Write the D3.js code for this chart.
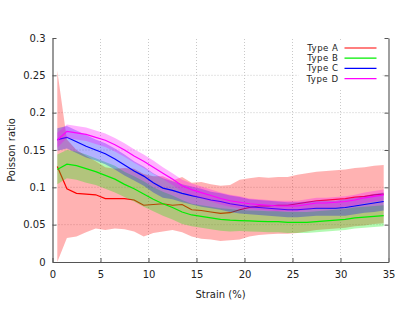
<!DOCTYPE html>
<html>
<head>
<meta charset="utf-8">
<script src="https://cdn.jsdelivr.net/npm/d3@7"></script>
<style>
  body { margin: 0; background: #fff; }
  svg { display: block; font-family: "DejaVu Sans", sans-serif; }
</style>
</head>
<body>
<div id="graph-container"></div>
<script>
const W = 415, H = 312
const margin = ({top: 38, right: 26.5, bottom: 50, left: 52.5})

// strain (%) sample points
const strain = [0.5, 1.5, 2.5, 3.5, 4.5, 5.5, 6.5, 7.5, 8.5, 9.5, 10.5, 11.5, 12.5, 13.5, 14.5, 15.5, 16.5,
  17.5, 18.5, 19.5, 20.5, 21.5, 22.5, 23.5, 24.5, 25.5, 26.5, 27.5, 28.5, 29.5, 30.5, 31.5, 32.5, 33.5, 34.5]

const meanA = [0.128, 0.098, 0.092, 0.091, 0.090, 0.085, 0.085, 0.085, 0.083, 0.076, 0.077, 0.078, 0.076, 0.077,
  0.070, 0.069, 0.067, 0.065, 0.066, 0.070, 0.073, 0.075, 0.075, 0.076, 0.076, 0.078, 0.080, 0.082, 0.083, 0.084,
  0.085, 0.087, 0.088, 0.090, 0.091]
const stdA = [0.128, 0.066, 0.058, 0.051, 0.045, 0.042, 0.040, 0.041, 0.042, 0.042, 0.038, 0.037, 0.033, 0.037,
  0.036, 0.038, 0.037, 0.037, 0.037, 0.040, 0.039, 0.039, 0.038, 0.038, 0.038, 0.039, 0.039, 0.039, 0.039, 0.039,
  0.039, 0.039, 0.039, 0.039, 0.039]

const meanB = [0.124, 0.131, 0.129, 0.125, 0.121, 0.116, 0.111, 0.104, 0.098, 0.091, 0.084, 0.078, 0.073, 0.067,
  0.063, 0.061, 0.059, 0.057, 0.056, 0.0555, 0.055, 0.0545, 0.054, 0.054, 0.053, 0.053, 0.053, 0.054, 0.055, 0.056,
  0.057, 0.059, 0.060, 0.061, 0.062]
const stdB = [0.020, 0.019, 0.019, 0.019, 0.018, 0.018, 0.018, 0.017, 0.017, 0.017, 0.016, 0.016, 0.016, 0.016,
  0.015, 0.015, 0.015, 0.015, 0.015, 0.014, 0.014, 0.014, 0.014, 0.014, 0.014, 0.014, 0.014, 0.014, 0.014, 0.014,
  0.014, 0.014, 0.014, 0.014, 0.014]

const meanC = [0.164, 0.167, 0.161, 0.155, 0.150, 0.145, 0.138, 0.130, 0.122, 0.115, 0.106, 0.099, 0.096, 0.092,
  0.089, 0.086, 0.083, 0.081, 0.078, 0.076, 0.074, 0.073, 0.072, 0.071, 0.070, 0.070, 0.071, 0.072, 0.072, 0.072,
  0.073, 0.075, 0.077, 0.079, 0.081]
const stdC = [0.015, 0.015, 0.015, 0.015, 0.014, 0.014, 0.014, 0.014, 0.013, 0.013, 0.013, 0.013, 0.012, 0.012,
  0.012, 0.012, 0.011, 0.011, 0.011, 0.011, 0.010, 0.010, 0.010, 0.010, 0.010, 0.010, 0.010, 0.010, 0.010, 0.010,
  0.011, 0.011, 0.011, 0.012, 0.012]

const meanD = [0.163, 0.175, 0.173, 0.171, 0.167, 0.163, 0.157, 0.150, 0.142, 0.135, 0.127, 0.119, 0.111, 0.102,
  0.097, 0.093, 0.089, 0.085, 0.082, 0.080, 0.078, 0.077, 0.076, 0.075, 0.075, 0.075, 0.077, 0.079, 0.079, 0.080,
  0.081, 0.083, 0.086, 0.088, 0.090]
const stdD = [0.010, 0.009, 0.009, 0.009, 0.009, 0.009, 0.009, 0.009, 0.009, 0.009, 0.009, 0.008, 0.008, 0.008,
  0.008, 0.008, 0.008, 0.008, 0.008, 0.008, 0.007, 0.007, 0.007, 0.007, 0.007, 0.007, 0.007, 0.007, 0.007, 0.007,
  0.007, 0.007, 0.007, 0.007, 0.007]

const typeNames = ["Type A", "Type B", "Type C", "Type D"]
const typeColors = ["#ff0000", "#00ee00", "#0000ff", "#ff00ff"]

const xTicks = [0, 5, 10, 15, 20, 25, 30, 35]
const yTicks = [0, 0.05, 0.1, 0.15, 0.2, 0.25, 0.3]

const series = typeNames.map((name, k) => ({
  name,
  color: typeColors[k],
  values: strain.map((s, i) => ({
    s,
    m: [meanA, meanB, meanC, meanD][k][i],
    sd: [stdA, stdB, stdC, stdD][k][i]
  }))
}))

const x = d3.scaleLinear().domain([0, 35]).range([margin.left, W - margin.right])
const y = d3.scaleLinear().domain([0, 0.3]).range([H - margin.bottom, margin.top])

const svg = d3.create("svg")
    .attr("width", W)
    .attr("height", H)
    .attr("viewBox", [0, 0, W, H])

d3.select("#graph-container").append(() => svg.node())

// dotted grid
const grid = svg.append("g").attr("stroke", "#bbbbbb").attr("stroke-width", 0.8).attr("stroke-dasharray", "1,2")
grid.selectAll(".gx")
  .data(xTicks.slice(1, -1))
  .join("line")
    .attr("x1", d => x(d)).attr("x2", d => x(d))
    .attr("y1", y(0)).attr("y2", y(0.3))
grid.selectAll(".gy")
  .data(yTicks.slice(1, -1))
  .join("line")
    .attr("x1", x(0)).attr("x2", x(35))
    .attr("y1", d => y(d)).attr("y2", d => y(d))

const area = d3.area()
  .x(d => x(d.s))
  .y0(d => y(Math.max(0, d.m - d.sd)))
  .y1(d => y(d.m + d.sd))

const line = d3.line()
  .x(d => x(d.s))
  .y(d => y(d.m))

const plot = svg.append("g").attr("class", "content")

series.forEach(sr => {
  plot.append("path")
      .attr("d", area(sr.values))
      .attr("fill", sr.color)
      .attr("fill-opacity", 0.3)
  plot.append("path")
      .attr("d", line(sr.values))
      .attr("fill", "none")
      .attr("stroke", sr.color)
      .attr("stroke-width", 1.2)
})

// legend (white box hides grid behind it)
const legend = svg.append("g").attr("transform", `translate(${x(35) - 50},${y(0.3) + 10})`)
legend.append("rect")
    .attr("x", -40).attr("y", -7)
    .attr("width", 84).attr("height", 48)
    .attr("fill", "#fff")
const item = legend.selectAll("g")
  .data(series)
  .join("g")
    .attr("transform", (d, i) => `translate(0,${i * 10.2})`)
item.append("text")
    .attr("x", 0)
    .attr("dy", "0.35em")
    .attr("text-anchor", "end")
    .attr("font-size", "8.6px")
    .attr("letter-spacing", "0.5px")
    .attr("fill", "#222")
    .text(d => d.name)
item.append("line")
    .attr("x1", 6).attr("x2", 38)
    .attr("stroke", d => d.color)
    .attr("stroke-width", 1.2)

// axes, gnuplot-like inward ticks
const axisColor = "#555"
const gx = svg.append("g")
    .attr("transform", `translate(0,${y(0)})`)
    .call(d3.axisBottom(x).tickValues(xTicks).tickSizeInner(-4).tickSizeOuter(0).tickPadding(9))
const gy = svg.append("g")
    .attr("transform", `translate(${x(0)},0)`)
    .call(d3.axisLeft(y).tickValues(yTicks).tickFormat(d3.format("")).tickSizeInner(-4).tickSizeOuter(0).tickPadding(7))
const gr = svg.append("g")
    .attr("transform", `translate(${x(35)},0)`)
    .call(d3.axisRight(y).tickValues(yTicks).tickSizeInner(-4).tickSizeOuter(0).tickFormat(""))

;[gx, gy, gr].forEach(g => {
  g.select(".domain").attr("stroke", axisColor).attr("stroke-width", 1.2)
  g.selectAll(".tick line").attr("stroke", axisColor)
  g.selectAll("text").attr("font-family", "DejaVu Sans").attr("font-size", "10px").attr("fill", "#222")
})
gr.select(".domain").attr("stroke", "#888").attr("stroke-width", 1.6)

svg.append("text")
    .attr("transform", "rotate(-90)")
    .attr("x", -(y(0) + y(0.3)) / 2)
    .attr("y", 15)
    .attr("text-anchor", "middle")
    .attr("font-size", "10px")
    .attr("fill", "#222")
    .text("Poisson ratio")

svg.append("text")
    .attr("x", (x(0) + x(35)) / 2)
    .attr("y", 298)
    .attr("text-anchor", "middle")
    .attr("font-size", "10px")
    .attr("fill", "#222")
    .text("Strain (%)")
</script>
</body>
</html>
